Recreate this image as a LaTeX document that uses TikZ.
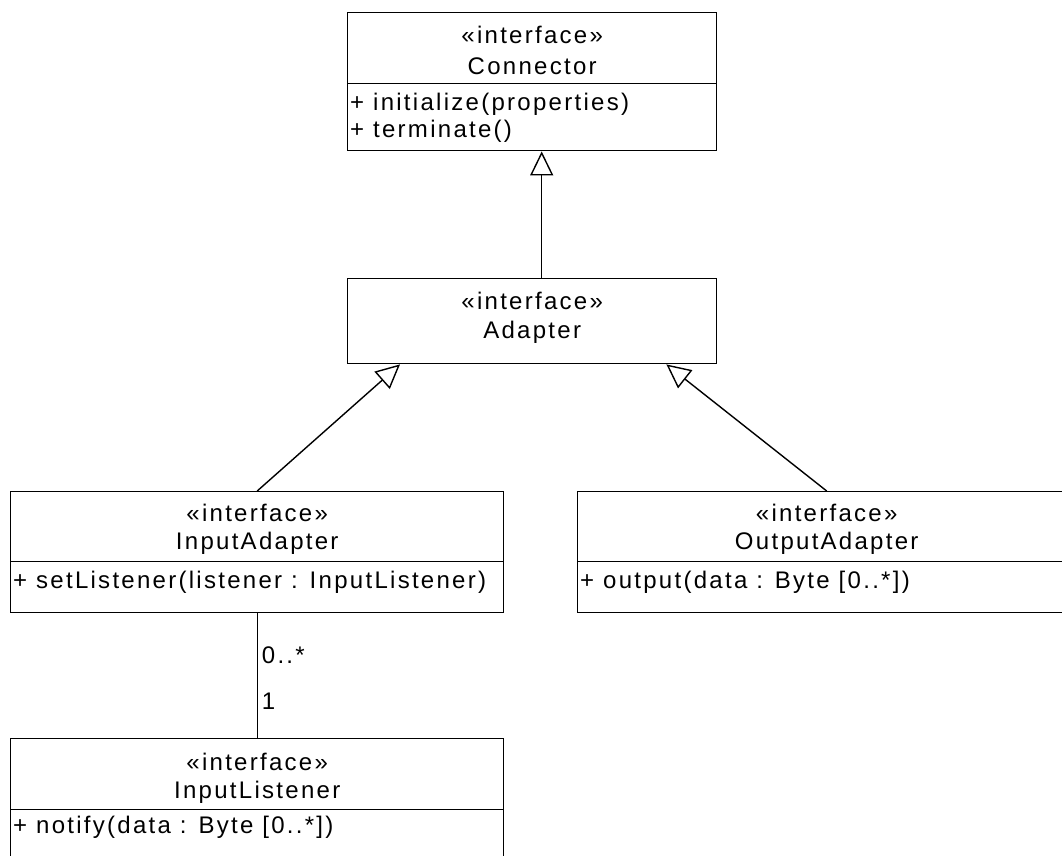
\documentclass[tikz,border=0pt]{standalone}
\usepackage{fontspec}
\setmainfont{Liberation Sans}[LetterSpace=9.5]
\usetikzlibrary{arrows.meta,calc}
\begin{document}
\begin{tikzpicture}[x=1pt,y=-1pt,
  box/.style={draw,line width=1.4pt,rectangle,inner sep=0pt,anchor=north west},
  txt/.style={anchor=base,inner sep=0pt,font=\fontsize{24}{29}\selectfont},
  optxt/.style={anchor=base west,inner sep=0pt,font=\fontsize{24}{29}\selectfont},
  gen/.style={line width=1.4pt,-{Triangle[open,length=24pt,width=23pt,line width=1.4pt]}},
  assoc/.style={line width=1.4pt}]
\useasboundingbox (0,0) rectangle (1062,855);
\clip (0,0) rectangle (1062,855);

% Connector
\node[box,minimum width=369pt,minimum height=71pt] (connH) at (347,12) {};
\node[box,minimum width=369pt,minimum height=67pt] (connO) at (347,83) {};
\node[txt] (connS) at ($(connH.north)+(0,31)$) {«interface»};
\node[txt] (connN) at ($(connH.north)+(0,62)$) {Connector};
\node[optxt] (connOp1) at ($(connO.north west)+(3,27)$) {+ initialize(properties)};
\node[optxt] (connOp2) at ($(connO.north west)+(3,54)$) {+ terminate()};

% Adapter
\node[box,minimum width=369pt,minimum height=85pt] (adapter) at (347,278) {};
\node[txt] (adS) at ($(adapter.north)+(0,31)$) {«interface»};
\node[txt] (adN) at ($(adapter.north)+(0,60)$) {Adapter};

% InputAdapter
\node[box,minimum width=493pt,minimum height=70pt] (iaH) at (10,491) {};
\node[box,minimum width=493pt,minimum height=51pt] (iaO) at (10,561) {};
\node[txt] (iaS) at ($(iaH.north)+(0,30)$) {«interface»};
\node[txt] (iaN) at ($(iaH.north)+(0,58)$) {InputAdapter};
\node[optxt] (iaOp1) at ($(iaO.north west)+(3,27)$) {+ setListener(listener : InputListener)};

% OutputAdapter
\node[box,minimum width=498pt,minimum height=70pt] (oaH) at (577,491) {};
\node[box,minimum width=498pt,minimum height=51pt] (oaO) at (577,561) {};
\node[txt] (oaS) at ($(oaH.north)+(0,30)$) {«interface»};
\node[txt] (oaN) at ($(oaH.north)+(0,58)$) {OutputAdapter};
\node[optxt] (oaOp1) at ($(oaO.north west)+(3,27)$) {+ output(data : Byte [0..*])};

% InputListener
\node[box,minimum width=493pt,minimum height=71pt] (ilH) at (10,738) {};
\node[box,minimum width=493pt,minimum height=80pt] (ilO) at (10,809) {};
\node[txt] (ilS) at ($(ilH.north)+(0,32)$) {«interface»};
\node[txt] (ilN) at ($(ilH.north)+(0,60)$) {InputListener};
\node[optxt] (ilOp1) at ($(ilO.north west)+(3,24)$) {+ notify(data : Byte [0..*])};

% Generalisations
\draw[gen] ($(adapter.north)+(9.5,0)$) -- ($(connO.south)+(9.5,0)$);
\draw[gen] (iaH.north) -- ($(adapter.south west)+(53,0)$);
\draw[gen] (oaH.north) -- ($(adapter.south east)+(-51,0)$);

% Association with multiplicities
\draw[assoc] (iaO.south) -- (ilH.north)
  node[optxt,pos=0.4,xshift=4pt] (multA) {0..*}
  node[optxt,pos=0.77,xshift=4pt] (multB) {1};
\end{tikzpicture}
\end{document}
